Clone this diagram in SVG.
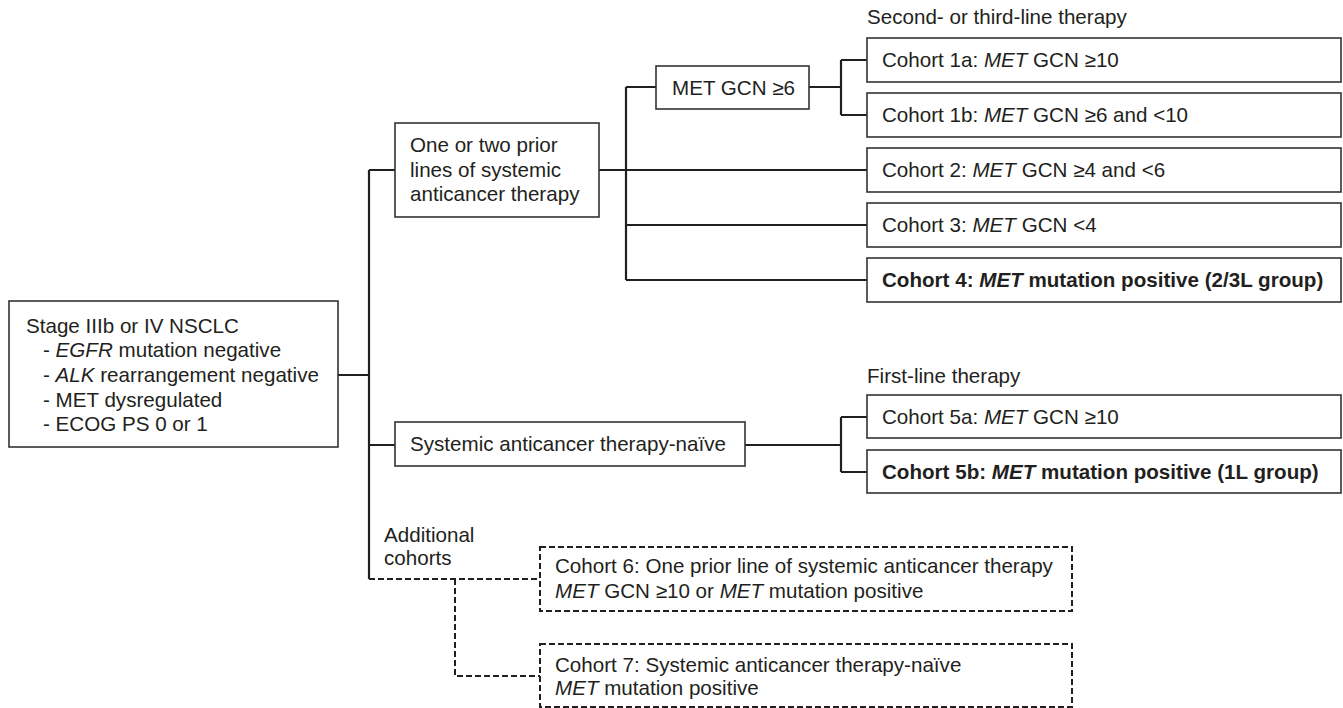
<svg xmlns="http://www.w3.org/2000/svg" width="1343" height="708" viewBox="0 0 1343 708">
<style>
text{font-family:"Liberation Sans",Arial,sans-serif;font-size:20.6px;fill:#231f20}
.b{font-weight:bold}
.i{font-style:italic}
.box{fill:#fff;stroke:#333;stroke-width:1.6}
.dbox{fill:#fff;stroke:#231f20;stroke-width:2;stroke-dasharray:6 3}
.ln{fill:none;stroke:#231f20;stroke-width:2.2}
.dl{fill:none;stroke:#231f20;stroke-width:2;stroke-dasharray:6 3}
</style>
<rect width="1343" height="708" fill="#fff"/>
<g id="connectors">
<path class="ln" d="M338 375H369M369 170V579M369 170H395M369 445H395"/>
<path class="ln" d="M599 170H867M626 87V280M626 87H656M626 225H867M626 280H867"/>
<path class="ln" d="M809 87H841M841 60V115M841 60H867M841 115H867"/>
<path class="ln" d="M745 445H841M841 417V472M841 417H867M841 472H867"/>
<path class="dl" d="M369 579H540M455 579V676H540"/>
</g>
<g id="stage">
<rect class="box" x="9" y="301" width="329" height="146"/>
<text x="26" y="333">Stage IIIb or IV NSCLC</text>
<text x="43" y="357">- <tspan class="i">EGFR</tspan> mutation negative</text>
<text x="43" y="382">- <tspan class="i">ALK</tspan> rearrangement negative</text>
<text x="43" y="407">- MET dysregulated</text>
<text x="43" y="431">- ECOG PS 0 or 1</text>
</g>
<g id="prior">
<rect class="box" x="395" y="123" width="204" height="94"/>
<text x="410" y="152">One or two prior</text>
<text x="410" y="177">lines of systemic</text>
<text x="410" y="201">anticancer therapy</text>
</g>
<g id="metgcn6">
<rect class="box" x="656" y="66" width="153" height="43"/>
<text x="672" y="95">MET GCN ≥6</text>
</g>
<g id="naive">
<rect class="box" x="395" y="422" width="350" height="44"/>
<text x="410" y="451">Systemic anticancer therapy-naïve</text>
</g>
<text id="label-2l" x="867" y="24">Second- or third-line therapy</text>
<g id="c1a">
<rect class="box" x="867" y="38" width="474" height="44"/>
<text x="882" y="67">Cohort 1a: <tspan class="i">MET</tspan> GCN ≥10</text>
</g>
<g id="c1b">
<rect class="box" x="867" y="93" width="474" height="44"/>
<text x="882" y="122">Cohort 1b: <tspan class="i">MET</tspan> GCN ≥6 and &lt;10</text>
</g>
<g id="c2">
<rect class="box" x="867" y="148" width="474" height="44"/>
<text x="882" y="177">Cohort 2: <tspan class="i">MET</tspan> GCN ≥4 and &lt;6</text>
</g>
<g id="c3">
<rect class="box" x="867" y="203" width="474" height="44"/>
<text x="882" y="232">Cohort 3: <tspan class="i">MET</tspan> GCN &lt;4</text>
</g>
<g id="c4">
<rect class="box" x="867" y="258" width="474" height="44"/>
<text class="b" x="882" y="287">Cohort 4: <tspan class="i">MET</tspan> mutation positive (2/3L group)</text>
</g>
<text id="label-1l" x="867" y="383">First-line therapy</text>
<g id="c5a">
<rect class="box" x="867" y="395" width="474" height="43"/>
<text x="882" y="424">Cohort 5a: <tspan class="i">MET</tspan> GCN ≥10</text>
</g>
<g id="c5b">
<rect class="box" x="867" y="450" width="474" height="43"/>
<text class="b" x="882" y="479">Cohort 5b: <tspan class="i">MET</tspan> mutation positive (1L group)</text>
</g>
<text id="label-add" x="384" y="542">Additional</text>
<text x="384" y="565">cohorts</text>
<g id="c6">
<rect class="dbox" x="540" y="547" width="532" height="64"/>
<text x="555" y="573">Cohort 6: One prior line of systemic anticancer therapy</text>
<text x="555" y="598"><tspan class="i">MET</tspan> GCN ≥10 or <tspan class="i">MET</tspan> mutation positive</text>
</g>
<g id="c7">
<rect class="dbox" x="540" y="644" width="532" height="63"/>
<text x="555" y="672">Cohort 7: Systemic anticancer therapy-naïve</text>
<text x="555" y="695"><tspan class="i">MET</tspan> mutation positive</text>
</g>
</svg>
